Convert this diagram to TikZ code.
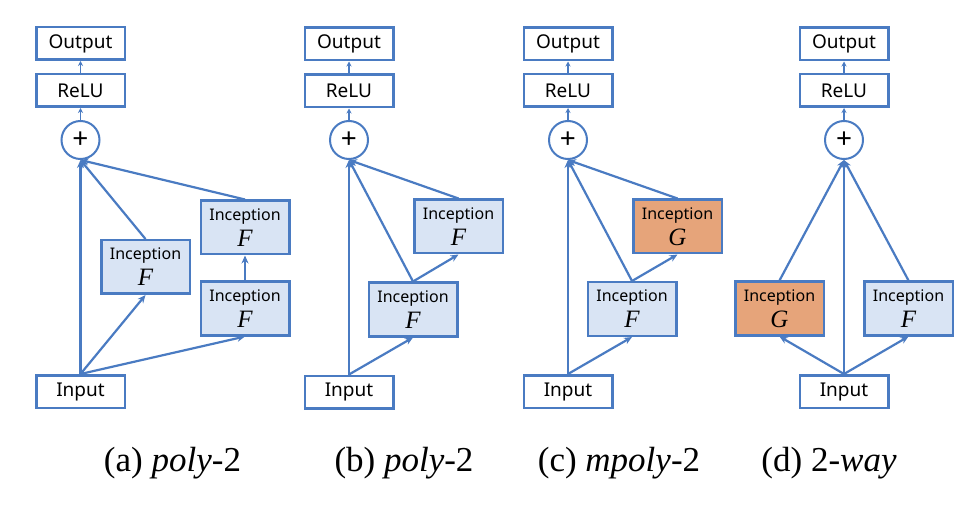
\documentclass[tikz,border=0pt]{standalone}
\usepackage{fontspec}
\setmainfont{Liberation Serif}
\setsansfont{Noto Sans}
\usetikzlibrary{arrows.meta}
\definecolor{edgeblue}{HTML}{4A7BC2}
\definecolor{fillblue}{HTML}{D9E4F4}
\definecolor{fillorange}{HTML}{E6A47A}
\newcommand{\fsym}[1]{{\rmfamily\itshape\fontsize{25}{25}\selectfont #1}}
\begin{document}
\begin{tikzpicture}[x=1pt, y=-1pt,
    box/.style = {draw=edgeblue, line width=2.5pt, fill=white, minimum width=88.5pt, minimum height=32.5pt, inner sep=0pt, font=\sffamily\fontsize{19}{19}\selectfont},
    incbox/.style = {box, fill=fillblue, minimum height=53.5pt, align=center, font=\sffamily\fontsize{16}{26}\selectfont},
    gbox/.style = {incbox, fill=fillorange},
    sumnode/.style = {circle, draw=edgeblue, line width=2pt, fill=white, minimum size=38pt, inner sep=0pt, font=\sffamily\fontsize{28}{28}\selectfont},
    conn/.style = {draw=edgeblue, line width=2.2pt, -{Stealth[length=8pt,width=7pt]}},
    tiny/.style = {draw=edgeblue, line width=1.5pt, -{Stealth[length=5pt,width=5pt]}},
    captext/.style = {anchor=base, font=\fontsize{35}{35}\selectfont}]
    \useasboundingbox (0,0) rectangle (975,505);
    % (a)
    \node[box] (outA) at (80.5,43.5) {Output};
    \node[box] (reluA) at (80.5,90.5) {ReLU};
    \node[sumnode] (sumA) at (80.5,140) {+};
    \node[box] (inA) at (80.5,391.5) {Input};
    \node[incbox] (fA1) at (145.5,267) {Inception\\\fsym{F}};
    \node[incbox] (fA2) at (245,308.5) {Inception\\\fsym{F}};
    \node[incbox] (fA3) at (245,227.5) {Inception\\\fsym{F}};
    \draw[tiny] (reluA) -- (outA);
    \draw[tiny] (sumA) -- (reluA);
    \draw[conn] (inA.north) -- (sumA.south);
    \draw[conn] (inA.north) -- (fA1.south);
    \draw[conn] (inA.north) -- (fA2.south);
    \draw[conn] (fA2) -- (fA3);
    \draw[conn] (fA1.north) -- (sumA.south);
    \draw[conn] (fA3.north) -- (sumA.south);
    % (b)
    \node[box] (outB) at (349,44) {Output};
    \node[box] (reluB) at (349,91) {ReLU};
    \node[sumnode] (sumB) at (349,140) {+};
    \node[box] (inB) at (349,392) {Input};
    \node[incbox] (fB1) at (413,309.5) {Inception\\\fsym{F}};
    \node[incbox] (fB2) at (458.5,226.5) {Inception\\\fsym{F}};
    \draw[tiny] (reluB) -- (outB);
    \draw[tiny] (sumB) -- (reluB);
    \draw[conn] (inB.north) -- (sumB.south);
    \draw[conn] (inB.north) -- (fB1.south);
    \draw[conn] (fB1.north) -- (sumB.south);
    \draw[conn] (fB1.north) -- (fB2.south);
    \draw[conn] (fB2.north) -- (sumB.south);
    % (c)
    \node[box] (outC) at (568,44) {Output};
    \node[box] (reluC) at (568,90.5) {ReLU};
    \node[sumnode] (sumC) at (568,140) {+};
    \node[box] (inC) at (568,391.5) {Input};
    \node[incbox] (fC) at (632,309) {Inception\\\fsym{F}};
    \node[gbox] (gC) at (677.5,226.5) {Inception\\\fsym{G}};
    \draw[tiny] (reluC) -- (outC);
    \draw[tiny] (sumC) -- (reluC);
    \draw[conn] (inC.north) -- (sumC.south);
    \draw[conn] (inC.north) -- (fC.south);
    \draw[conn] (fC.north) -- (sumC.south);
    \draw[conn] (fC.north) -- (gC.south);
    \draw[conn] (gC.north) -- (sumC.south);
    % (d)
    \node[box] (outD) at (844,44) {Output};
    \node[box] (reluD) at (844,90.5) {ReLU};
    \node[sumnode] (sumD) at (844,140) {+};
    \node[box] (inD) at (844,391.5) {Input};
    \node[gbox] (gD) at (779.5,308.5) {Inception\\\fsym{G}};
    \node[incbox] (fD) at (908.5,308.5) {Inception\\\fsym{F}};
    \draw[tiny] (reluD) -- (outD);
    \draw[tiny] (sumD) -- (reluD);
    \draw[conn] (inD.north) -- (sumD.south);
    \draw[conn] (inD.north) -- (gD.south);
    \draw[conn] (inD.north) -- (fD.south);
    \draw[conn] (gD.north) -- (sumD.south);
    \draw[conn] (fD.north) -- (sumD.south);
    % captions
    \node[captext] (capA) at (172.5,471) {(a) \textit{poly}-2};
    \node[captext] (capB) at (404,471) {(b) \textit{poly}-2};
    \node[captext] (capC) at (619,471) {(c) \textit{mpoly}-2};
    \node[captext] (capD) at (829,471) {(d) 2-\textit{way}};
\end{tikzpicture}
\end{document}
